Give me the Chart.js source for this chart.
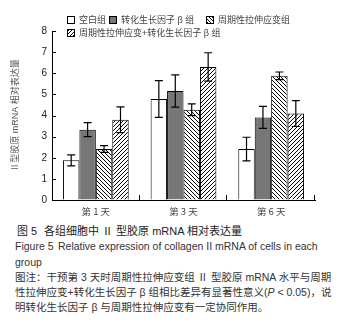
<!DOCTYPE html>
<html>
<head>
<meta charset="utf-8">
<script src="https://cdn.jsdelivr.net/npm/chart.js@4.4.1/dist/chart.umd.min.js"></script>
<style>
  body { margin: 0; background: #fff; width: 349px; height: 321px; overflow: hidden; position: relative;
         font-family: "Liberation Sans", "Noto Sans CJK SC", sans-serif; }
  #wrap { position: absolute; left: 0; top: 0; width: 349px; height: 222px; }
  .lg { position: absolute; font-size: 9px; color: #444; white-space: nowrap; line-height: 10px; }
  .lg i { display: inline-block; width: 6px; height: 6px; border: 1px solid #000; vertical-align: -1px; margin-right: 4px; }
  .t { position: absolute; white-space: nowrap; font-size: 10.5px; color: #333; line-height: 14px; }
  .cap { font-size: 11px; color: #222; }
</style>
</head>
<body>
<div id="wrap"><canvas id="chart" width="349" height="222"></canvas></div>

<div class="lg" style="left:67px;top:15px"><i style="background:#fff"></i>空白组</div>
<div class="lg" style="left:109px;top:15px"><i style="background:#777"></i>转化生长因子 β 组</div>
<div class="lg" style="left:206px;top:15px"><i style="background:repeating-linear-gradient(45deg,#000 0 1px,#fff 1px 2.5px)"></i>周期性拉伸应变组</div>
<div class="lg" style="left:67px;top:28px"><i style="background:repeating-linear-gradient(-45deg,#000 0 1px,#fff 1px 2.5px)"></i>周期性拉伸应变+转化生长因子 β 组</div>

<div class="t cap" style="left:17px;top:224px">图 5</div>
<div class="t cap" style="left:44px;top:224px">各组细胞中 Ⅱ 型胶原 mRNA 相对表达量</div>
<div class="t" style="left:15px;top:239px">Figure 5</div>
<div class="t" style="left:58px;top:239px">Relative expression of collagen II mRNA of cells in each</div>
<div class="t" style="left:15px;top:255px">group</div>
<div class="t" style="left:15px;top:270px">图注：干预第 3 天时周期性拉伸应变组 Ⅱ 型胶原 mRNA 水平与周期</div>
<div class="t" style="left:15px;top:285px">性拉伸应变+转化生长因子 β 组相比差异有显著性意义(<i>P</i> &lt; 0.05)，说</div>
<div class="t" style="left:15px;top:300px">明转化生长因子 β 与周期性拉伸应变有一定协同作用。</div>

<script>
// categories and series
const days = ["第 1 天", "第 3 天", "第 6 天"];
const blank = [1.88, 4.78, 2.41];
const blankErr = [0.26, 0.87, 0.56];
const tgf = [3.33, 5.16, 3.91];
const tgfErr = [0.33, 0.76, 0.52];
const strain = [2.41, 4.27, 5.88];
const strainErr = [0.16, 0.28, 0.18];
const combo = [3.8, 6.3, 4.09];
const comboErr = [0.61, 0.67, 0.61];
const yTicks = [0, 1, 2, 3, 4, 5, 6, 7, 8];

// hatch pattern: dir 1 = "/", dir -1 = "\"
function hatch(dir) {
  const c = document.createElement("canvas");
  c.width = 4;
  c.height = 4;
  const g = c.getContext("2d");
  g.fillStyle = "#fff";
  g.fillRect(0, 0, 4, 4);
  g.fillStyle = "#000";
  for (let i = 0; i < 4; i++) g.fillRect(dir > 0 ? 3 - i : i, i, 1, 1);
  return g.createPattern(c, "repeat");
}

// error bars + inward tick marks
const extras = {
  id: "extras",
  afterDatasetsDraw(chart) {
    const ctx = chart.ctx;
    const x = chart.scales.x;
    const y = chart.scales.y;
    ctx.save();
    ctx.strokeStyle = "#000";
    ctx.lineWidth = 1.2;
    chart.data.datasets.forEach((ds, i) => {
      chart.getDatasetMeta(i).data.forEach((bar, j) => {
        const top = y.getPixelForValue(ds.data[j] + ds.err[j]);
        const bot = y.getPixelForValue(ds.data[j] - ds.err[j]);
        ctx.beginPath();
        ctx.moveTo(bar.x, top);
        ctx.lineTo(bar.x, bot);
        ctx.moveTo(bar.x - 4, top);
        ctx.lineTo(bar.x + 4, top);
        ctx.moveTo(bar.x - 4, bot);
        ctx.lineTo(bar.x + 4, bot);
        ctx.stroke();
      });
    });
    ctx.lineWidth = 1;
    ctx.beginPath();
    yTicks.forEach((v) => {
      const py = Math.round(y.getPixelForValue(v)) + 0.5;
      ctx.moveTo(x.left, py);
      ctx.lineTo(x.left + 4, py);
    });
    for (let i = 1; i <= days.length; i++) {
      const px = Math.round(x.left + (i * x.width) / days.length) - 0.5;
      ctx.moveTo(px, x.top);
      ctx.lineTo(px, x.top - 5);
    }
    ctx.stroke();
    ctx.restore();
  },
};

const series = [
  { label: "空白组", data: blank, err: blankErr, fill: "#fff" },
  { label: "转化生长因子 β 组", data: tgf, err: tgfErr, fill: "#777" },
  { label: "周期性拉伸应变组", data: strain, err: strainErr, fill: hatch(-1) },
  { label: "周期性拉伸应变+转化生长因子 β 组", data: combo, err: comboErr, fill: hatch(1) },
];

new Chart(document.getElementById("chart"), {
  type: "bar",
  data: {
    labels: days,
    datasets: series.map((s) => ({
      label: s.label,
      data: s.data,
      err: s.err,
      backgroundColor: s.fill,
      borderColor: "#000",
      borderWidth: 1,
      categoryPercentage: 0.75,
      barPercentage: 1,
    })),
  },
  options: {
    responsive: false,
    animation: false,
    layout: { padding: { left: 0, right: 34, top: 31, bottom: 0 } },
    plugins: { legend: { display: false }, tooltip: { enabled: false } },
    scales: {
      x: {
        afterFit: (s) => { s.height = 22; },
        grid: { drawOnChartArea: false, drawTicks: false },
        border: { display: true, color: "#000", width: 1 },
        ticks: { padding: 6, color: "#444", font: { size: 9.5, family: "'Noto Sans CJK SC'" } },
      },
      y: {
        min: 0,
        max: 8,
        afterFit: (s) => { s.width = 52; },
        afterBuildTicks: (s) => { s.ticks = yTicks.map((v) => ({ value: v })); },
        grid: { drawOnChartArea: false, drawTicks: false },
        border: { display: true, color: "#000", width: 1 },
        ticks: { padding: 5, color: "#222", font: { size: 10, family: "'Liberation Sans'" } },
        title: {
          display: true,
          text: "Ⅱ型胶原 mRNA 相对表达量",
          color: "#555",
          padding: { top: 10, bottom: 0 },
          font: { size: 9, family: "'Liberation Sans', 'Noto Sans CJK SC'" },
        },
      },
    },
  },
  plugins: [extras],
});
</script>
</body>
</html>
